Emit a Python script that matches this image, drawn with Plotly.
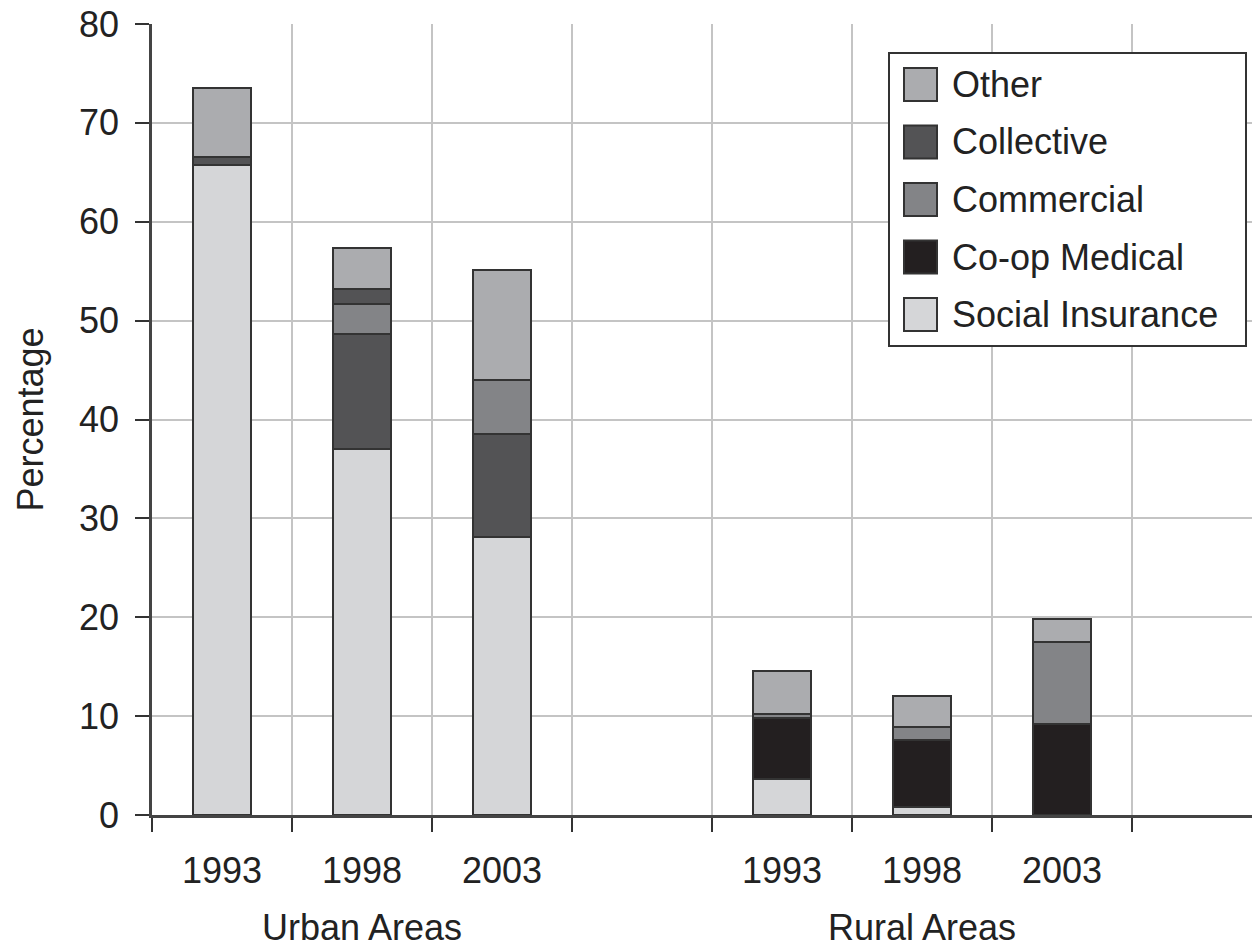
import plotly.graph_objects as go

# ---- data ----
categories = ["Urban 1993", "Urban 1998", "Urban 2003", "Urban gap",
              "Rural 1993", "Rural 1998", "Rural 2003", "Rural gap"]
tick_labels = ["1993", "1998", "2003", "", "1993", "1998", "2003", ""]
group_labels = ["Urban Areas", "Rural Areas"]
group_centers = ["Urban 1998", "Rural 1998"]

social_insurance = [65.7, 37.0, 28.1, None, 3.6, 0.8, None, None]
coop_medical = [None, None, None, None, 6.2, 6.8, 9.2, None]
collective = [0.8, 11.6, 10.4, None, None, None, None, None]
commercial = [None, 3.1, 5.5, None, 0.4, 1.3, 8.3, None]
collective_upper = [None, 1.5, None, None, None, None, None, None]
other = [7.0, 4.1, 11.1, None, 4.4, 3.1, 2.3, None]

legend_names = ["Other", "Collective", "Commercial", "Co-op Medical", "Social Insurance"]
colors = {
    "Other": "#abacaf",
    "Collective": "#535355",
    "Commercial": "#838487",
    "Co-op Medical": "#231f20",
    "Social Insurance": "#d5d6d8",
}

# stacking order, bottom to top
stack = [
    ("Social Insurance", social_insurance),
    ("Co-op Medical", coop_medical),
    ("Collective", collective),
    ("Commercial", commercial),
    ("Collective", collective_upper),
    ("Other", other),
]

FONT = "Liberation Sans, Arial, sans-serif"
TXT = "#222222"
OFF = 8  # default page body margin
W, H = 1260 - OFF, 948 - OFF
# plot area in screen pixels: left 152, top 24, right 1260, bottom 815
ML, MR, MT, MB = 152 - OFF, 0, 24 - OFF, 948 - 815
PL, PT, PR, PB = 152, 24, 1260, 815

fig = go.Figure()
for name, vals in stack:
    fig.add_trace(go.Bar(
        x=categories, y=vals, name=name, width=0.42,
        marker=dict(color=colors[name], line=dict(color="#333333", width=2)),
        showlegend=False,
    ))

def px_x(px):
    return (px - PL) / (PR - PL)

def px_y(py):
    return (PB - py) / (PB - PT)

shapes = []
annotations = []
# legend box
shapes.append(dict(type="rect", xref="paper", yref="paper",
                   x0=px_x(889), x1=px_x(1246), y0=px_y(346), y1=px_y(53),
                   fillcolor="white", line=dict(color="#333333", width=2), layer="above"))
for i, name in enumerate(legend_names):
    cy = 84.5 + i * 57.5
    shapes.append(dict(type="rect", xref="paper", yref="paper",
                       x0=px_x(904), x1=px_x(937), y0=px_y(cy + 16.5), y1=px_y(cy - 16.5),
                       fillcolor=colors[name], line=dict(color="#333333", width=2), layer="above"))
    annotations.append(dict(xref="paper", yref="paper", x=px_x(950), y=px_y(cy),
                            xanchor="left", yanchor="middle", text=name, showarrow=False,
                            font=dict(family=FONT, size=36, color=TXT)))

for lab, c in zip(group_labels, group_centers):
    annotations.append(dict(xref="x", yref="paper", x=c, y=px_y(927),
                            xanchor="center", yanchor="middle", text=lab, showarrow=False,
                            font=dict(family=FONT, size=36, color=TXT)))

annotations.append(dict(xref="paper", yref="paper", x=px_x(30), y=0.5,
                        xanchor="center", yanchor="middle", text="Percentage", textangle=-90,
                        showarrow=False, font=dict(family=FONT, size=36, color=TXT)))

fig.update_layout(
    width=W, height=H,
    margin=dict(l=ML, r=MR, t=MT, b=MB, autoexpand=False),
    barmode="stack",
    plot_bgcolor="white", paper_bgcolor="white",
    font=dict(family=FONT, size=36, color=TXT),
    shapes=shapes, annotations=annotations,
    showlegend=False,
)
fig.update_xaxes(
    type="category", categoryorder="array", categoryarray=categories,
    tickmode="array", tickvals=categories, ticktext=tick_labels,
    tickson="boundaries", ticks="outside", ticklen=14, tickwidth=2, tickcolor="#333333",
    showgrid=True, gridcolor="#c4c4c4", gridwidth=2,
    showline=True, linecolor="#444444", linewidth=3,
    range=[-0.5, 7.5 - 12 / 140], automargin=False,
    ticklabelstandoff=22, ticklabeloverflow="allow",
    tickfont=dict(family=FONT, size=36, color=TXT),
)
fig.update_yaxes(
    range=[0, 80], tickmode="linear", tick0=0, dtick=10,
    ticks="outside", ticklen=14, tickwidth=2, tickcolor="#333333",
    showgrid=True, gridcolor="#c4c4c4", gridwidth=2,
    showline=True, linecolor="#444444", linewidth=2.5, automargin=False,
    zeroline=False, ticklabelstandoff=9, ticklabeloverflow="allow",
    tickfont=dict(family=FONT, size=36, color=TXT),
)

fig.write_html("out.html")
